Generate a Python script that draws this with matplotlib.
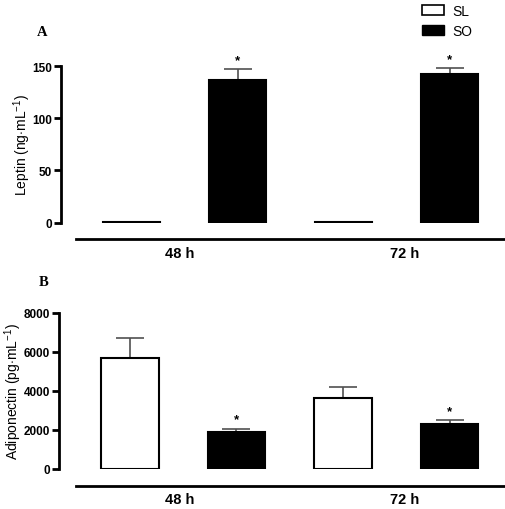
import numpy as np
import matplotlib
matplotlib.use("Agg")
import matplotlib.pyplot as plt
from matplotlib.patches import Patch
from matplotlib.lines import Line2D

plt.rcParams['font.family'] = ['Liberation Sans', 'DejaVu Sans']
plt.rcParams['mathtext.fontset'] = 'custom'
plt.rcParams['mathtext.rm'] = 'Liberation Sans'
plt.rcParams['mathtext.it'] = 'Liberation Sans:italic'
plt.rcParams['mathtext.bf'] = 'Liberation Sans:bold'

# Data
groups = ['48 h', '72 h']
series = ['SL', 'SO']
leptin_sl = [0.6, 0.6]
leptin_sl_err = [0, 0]
leptin_so = [136.5, 142.5]
leptin_so_err = [10.5, 5.5]
adipo_sl = [5660, 3630]
adipo_sl_err = [1060, 580]
adipo_so = [1900, 2280]
adipo_so_err = [150, 220]

W, H = 505, 510
fig = plt.figure(figsize=(W / 100, H / 100), dpi=100)

def fx(px):
    return px / W

def fy(py):
    return 1 - py / H

def panel(ax_box, sl, sl_err, so, so_err, ylim, yticks, ylabel, label_right, stars,
          line_y, label_y, letter, letter_xy):
    left, top, right, bottom = ax_box
    ax = fig.add_axes([fx(left), fy(bottom), fx(right) - fx(left), fy(top) - fy(bottom)])
    x = np.arange(len(groups))
    pos_sl = x * 2
    pos_so = x * 2 + 1
    ax.bar(pos_sl, sl, width=0.54, color='white', edgecolor='black', linewidth=1.5, zorder=3)
    ax.bar(pos_so, so, width=0.54, color='black', edgecolor='black', linewidth=1.5, zorder=3)
    ax.errorbar(pos_sl, sl, yerr=[np.zeros(len(sl)), sl_err], fmt='none', ecolor='#505050',
                elinewidth=1.2, capsize=10, capthick=1.2, zorder=2)
    ax.errorbar(pos_so, so, yerr=[np.zeros(len(so)), so_err], fmt='none', ecolor='#505050',
                elinewidth=1.2, capsize=10, capthick=1.2, zorder=2)
    for i in range(len(groups)):
        if stars[i]:
            ax.text(pos_so[i], so[i] + so_err[i] + ylim[1] * 0.02, '*', ha='center', va='bottom',
                    fontsize=9.5, fontweight='bold')
    ax.set_xlim(-0.665, 3.52)
    ax.set_ylim(ylim)
    ax.set_yticks(yticks)
    ax.set_yticklabels([str(t) for t in yticks], fontweight='bold', fontsize=8.5)
    ax.set_xticks([])
    for s in ['top', 'right', 'bottom']:
        ax.spines[s].set_visible(False)
    ax.spines['left'].set_linewidth(2)
    ax.tick_params(axis='y', direction='out', length=5, width=2, pad=1.5)
    ax.set_ylabel(ylabel, fontsize=10)
    ax.yaxis.set_label_coords((label_right - left) / (right - left), 0.5)
    fig.add_artist(Line2D([fx(76), fx(504)], [fy(line_y), fy(line_y)], color='black', linewidth=2))
    for lab, px in zip(groups, [180, 405]):
        fig.text(fx(px), fy(label_y), lab, ha='center', va='center', fontsize=10.5, fontweight='bold')
    fig.text(fx(letter_xy[0]), fy(letter_xy[1]), letter, fontsize=10.5, fontweight='bold',
             family='Liberation Serif', ha='left', va='center')
    return ax

panel((61, 67, 505, 223.7), leptin_sl, leptin_sl_err, leptin_so, leptin_so_err,
      (0, 150), [0, 50, 100, 150], r'Leptin (ng$\cdot$mL$^{-1}$)', 33, [True, True],
      240, 254, 'A', (37, 33))
panel((59, 313.7, 505, 469.7), adipo_sl, adipo_sl_err, adipo_so, adipo_so_err,
      (0, 8000), [0, 2000, 4000, 6000, 8000], r'Adiponectin (pg$\cdot$mL$^{-1}$)', 24, [True, True],
      487, 500, 'B', (39, 283))

handles = [Patch(facecolor='white', edgecolor='black', linewidth=1.2, label=series[0]),
           Patch(facecolor='black', edgecolor='black', label=series[1])]
fig.legend(handles=handles, loc='upper left', bbox_to_anchor=(fx(409), fy(-8)), frameon=False,
           fontsize=10, handlelength=1.6, handleheight=0.7, handletextpad=0.6, labelspacing=0.45)

fig.savefig('out.png', dpi=100)
